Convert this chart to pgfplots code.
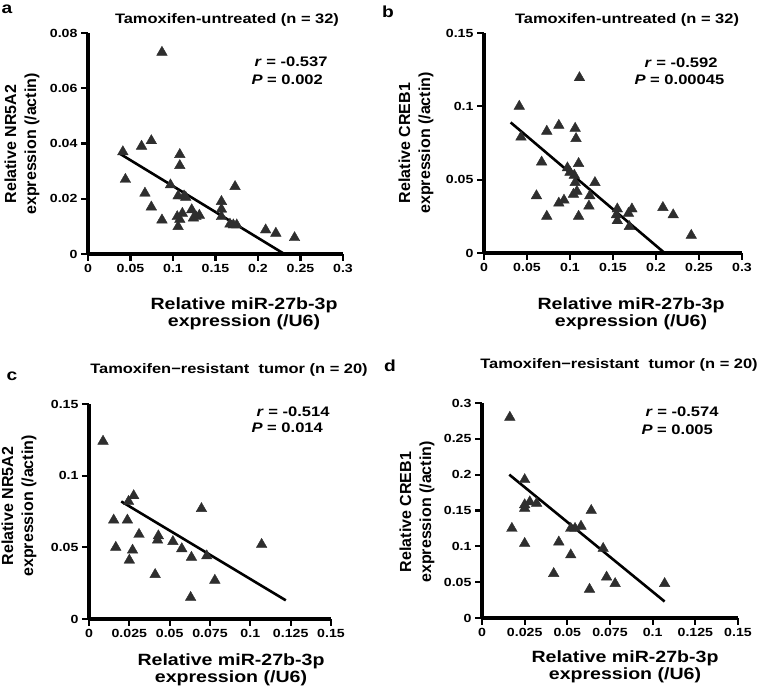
\documentclass[border=0pt]{standalone}
\usepackage{fontspec}
\setmainfont{Liberation Sans}[FakeStretch=1.2]
\newfontfamily\plainsans{Liberation Sans}
\usepackage{pgfplots}
\pgfplotsset{compat=1.18}

\definecolor{mk}{HTML}{2E2E2E}

\pgfplotsset{
  panel/.style={
    scale only axis,
    anchor=south west,
    ticklabel style={font=\fontsize{11.8}{13}\selectfont\bfseries,
      /pgf/number format/fixed, /pgf/number format/precision=3,
      /pgf/number format/assume math mode=true},
    scaled ticks=false,
  },
  pts/.style={only marks, mark=triangle*, mark size=6.1pt,
    mark options={fill=mk, draw=mk}},
  fitline/.style={no marks, black, line width=2.6pt},
}

\newcommand{\xl}{\fontsize{16.3}{17}\selectfont\bfseries}
\newcommand{\yl}{\plainsans\fontsize{16}{20}\selectfont\bfseries}
\newcommand{\st}{\fontsize{13.8}{16}\selectfont\bfseries}
\newcommand{\ttl}{\fontsize{13.7}{16}\selectfont\bfseries}

\begin{document}
\begin{tikzpicture}
\path[use as bounding box] (0pt,0pt) rectangle (759pt,692pt);

% ---- a ----
\begin{axis}[panel, at={(88pt,438pt)}, width=255pt, height=221pt,
  axis lines=left, axis line style={-, line width=3.5pt, black},
  tick align=outside, major tick length=7pt,
  major tick style={line width=2.2pt, black},
  xmin=0, xmax=0.3, ymin=0, ymax=0.08,
  xtick={0,0.05,...,0.3}, ytick={0,0.02,...,0.08}]
\addplot[pts] coordinates {
 (0.041,0.037) (0.044,0.027) (0.063,0.039) (0.0745,0.041) (0.067,0.022)
 (0.0745,0.017) (0.087,0.073) (0.087,0.0123) (0.097,0.025) (0.108,0.036)
 (0.108,0.032) (0.106,0.021) (0.113,0.021) (0.106,0.0099) (0.108,0.0125)
 (0.111,0.0147) (0.105,0.0135) (0.122,0.016) (0.124,0.013) (0.127,0.0135)
 (0.131,0.014) (0.157,0.019) (0.157,0.0162) (0.157,0.0135) (0.173,0.0244)
 (0.167,0.0108) (0.171,0.0105) (0.175,0.0105) (0.209,0.0087) (0.221,0.0075)
 (0.243,0.0059) (0.115,0.0205)};
\addplot[fitline] coordinates {(0.038,0.0362) (0.231,0)};
\end{axis}

% ---- b ----
\begin{axis}[panel, at={(484pt,439pt)}, width=258pt, height=220pt,
  axis lines=left, axis line style={-, line width=3.5pt, black},
  tick align=outside, major tick length=7pt,
  major tick style={line width=2.2pt, black},
  xmin=0, xmax=0.3, ymin=0, ymax=0.15,
  xtick={0,0.05,...,0.3}, ytick={0,0.05,0.1,0.15}]
\addplot[pts] coordinates {
 (0.041,0.100) (0.043,0.079) (0.073,0.083) (0.087,0.087) (0.067,0.062)
 (0.061,0.039) (0.073,0.025) (0.087,0.034) (0.093,0.036) (0.097,0.058)
 (0.111,0.1195) (0.106,0.085) (0.107,0.078) (0.110,0.061) (0.105,0.053)
 (0.106,0.048) (0.104,0.040) (0.108,0.042) (0.110,0.025) (0.129,0.048)
 (0.123,0.039) (0.122,0.032) (0.155,0.030) (0.155,0.022) (0.154,0.026)
 (0.168,0.027) (0.172,0.030) (0.169,0.018) (0.208,0.031) (0.220,0.026)
 (0.241,0.012) (0.100,0.055)};
\addplot[fitline] coordinates {(0.031,0.089) (0.21,0)};
\end{axis}

% ---- c ----
\begin{axis}[panel, at={(89pt,73pt)}, width=242pt, height=215pt,
  axis lines=left, axis line style={-, line width=3.5pt, black},
  tick align=outside, major tick length=7pt,
  major tick style={line width=2.2pt, black},
  xmin=0, xmax=0.15, ymin=0, ymax=0.15,
  xtick={0,0.025,0.05,0.075,0.1,0.125,0.15}, ytick={0,0.05,0.1,0.15}]
\addplot[pts] coordinates {
 (0.0087,0.124) (0.0277,0.086) (0.0245,0.082) (0.0153,0.069) (0.0238,0.069)
 (0.031,0.059) (0.0166,0.050) (0.027,0.048) (0.025,0.041) (0.041,0.031)
 (0.043,0.058) (0.0425,0.055) (0.052,0.054) (0.0575,0.049) (0.0635,0.043)
 (0.063,0.015) (0.0697,0.077) (0.073,0.044) (0.078,0.027) (0.107,0.052)};
\addplot[fitline] coordinates {(0.02,0.082) (0.122,0.013)};
\end{axis}

% ---- d ----
\begin{axis}[panel, at={(482pt,74pt)}, width=256pt, height=215pt,
  axis lines=left, axis line style={-, line width=3.5pt, black},
  tick align=outside, major tick length=7pt,
  major tick style={line width=2.2pt, black},
  xmin=0, xmax=0.15, ymin=0, ymax=0.3,
  xtick={0,0.025,0.05,0.075,0.1,0.125,0.15}, ytick={0,0.05,...,0.3}]
\addplot[pts] coordinates {
 (0.0163,0.280) (0.0175,0.125) (0.025,0.193) (0.025,0.158) (0.028,0.162)
 (0.032,0.160) (0.025,0.104) (0.042,0.062) (0.045,0.106) (0.052,0.088)
 (0.052,0.125) (0.058,0.128) (0.064,0.150) (0.063,0.040) (0.071,0.097)
 (0.073,0.057) (0.078,0.048) (0.107,0.048) (0.025,0.153) (0.0545,0.125)};
\addplot[fitline] coordinates {(0.016,0.2) (0.107,0.023)};
\end{axis}

\begin{scope}[x=1pt, y=1pt]
% panel letters
\node[font=\fontsize{16}{18}\selectfont\bfseries] at (7,683) {a};
\node[font=\fontsize{16}{18}\selectfont\bfseries] at (388,680) {b};
\node[font=\fontsize{16}{18}\selectfont\bfseries] at (12,316) {c};
\node[font=\fontsize{16}{18}\selectfont\bfseries] at (390,326) {d};

% titles
\node[font=\ttl] at (227,672) {Tamoxifen-untreated (n = 32)};
\node[font=\ttl] at (627,672) {Tamoxifen-untreated (n = 32)};
\node[font=\ttl] at (229,322) {Tamoxifen−resistant\ \ tumor (n = 20)};
\node[font=\ttl] at (619,327) {Tamoxifen−resistant\ \ tumor (n = 20)};

% statistics
\node[font=\st, anchor=west] at (251,630) {\textit{r} = -0.537};
\node[font=\st, anchor=west] at (248,612) {\textit{P} = 0.002};
\node[font=\st, anchor=west] at (641,629) {\textit{r} = -0.592};
\node[font=\st, anchor=west] at (631,612) {\textit{P} = 0.00045};
\node[font=\st, anchor=west] at (253,280) {\textit{r} = -0.514};
\node[font=\st, anchor=west] at (248,264) {\textit{P} = 0.014};
\node[font=\st, anchor=west] at (642,280) {\textit{r} = -0.574};
\node[font=\st, anchor=west] at (638,262) {\textit{P} = 0.005};

% x labels
\node[font=\xl, align=center] at (244,378) {Relative miR-27b-3p\\expression (/U6)};
\node[font=\xl, align=center] at (631,378) {Relative miR-27b-3p\\expression (/U6)};
\node[font=\xl, align=center] at (231,22) {Relative miR-27b-3p\\expression (/U6)};
\node[font=\xl, align=center] at (625,25) {Relative miR-27b-3p\\expression (/U6)};

% y labels
\node[font=\yl, align=center, rotate=90] at (22,548) {Relative NR5A2\\expression (/actin)};
\node[font=\yl, align=center, rotate=90] at (416,549) {Relative CREB1\\expression (/actin)};
\node[font=\yl, align=center, rotate=90] at (19,186) {Relative NR5A2\\expression (/actin)};
\node[font=\yl, align=center, rotate=90] at (417,180) {Relative CREB1\\expression (/actin)};
\end{scope}
\end{tikzpicture}
\end{document}
